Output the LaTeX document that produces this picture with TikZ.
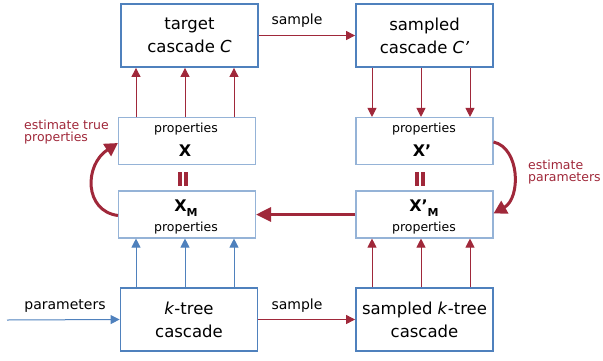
\documentclass[tikz,border=0pt]{standalone}
\usepackage{fontspec}
\setmainfont{DejaVu Sans}
\usetikzlibrary{arrows.meta}
\definecolor{cblue}{RGB}{79,129,189}
\definecolor{clblue}{RGB}{149,179,215}
\definecolor{cred}{RGB}{160,40,58}
\begin{document}
\begin{tikzpicture}[x=1pt,y=-1pt,
  bigbox/.style={draw=cblue,line width=1.8pt,minimum width=137pt,minimum height=63pt,inner sep=0pt,align=center,font=\fontsize{16.5}{23}\selectfont},
  propbox/.style={draw=clblue,line width=1.1pt,minimum width=137pt,minimum height=47pt,inner sep=0pt},
  proptxt/.style={inner sep=0pt,font=\fontsize{12.5}{14}\selectfont},
  bigx/.style={inner sep=0pt,font=\fontsize{16}{18}\bfseries},
  redarr/.style={draw=cred,line width=1pt,-{Triangle[length=9pt,width=9pt]}},
  bluearr/.style={draw=cblue,line width=1pt,-{Triangle[length=9pt,width=9pt]}},
  thickred/.style={draw=cred,line width=3pt,-{Triangle[length=13pt,width=14pt]}},
  lbl/.style={inner sep=0pt,font=\fontsize{14}{16}\selectfont},
  redlbl/.style={inner sep=0pt,text=cred,align=left,font=\fontsize{12.5}{12.5}\selectfont},
  eqbar/.style={fill=cred}
]
\useasboundingbox (0,0) rectangle (603,360);

% boxes
\node[bigbox] (C) at (189.5,35.5) {target\\cascade \textit{C}};
\node[bigbox] (Cp) at (424.5,35.5) {sampled\\cascade \textit{C’}};
\node[propbox] (X) at (187,141) {};
\node[propbox] (Xp) at (424.5,141) {};
\node[propbox] (XM) at (187,214.5) {};
\node[propbox] (XpM) at (424.5,214.5) {};
\node[bigbox] (K) at (189,319.5) {\textit{k}-tree\\cascade};
\node[bigbox] (Kp) at (424.5,319.5) {sampled \textit{k}-tree\\cascade};

% texts in property boxes
\node[proptxt] (Xa) at (186,129) {properties};
\node[bigx] (Xb) at (185,151) {X};
\node[proptxt] (Xpa) at (424,129) {properties};
\node[bigx] (Xpb) at (422,151) {X’};
\node[bigx] (XMa) at (186,208) {X\raisebox{-5pt}{\fontsize{11}{11}\selectfont M}};
\node[proptxt] (XMb) at (186,228) {properties};
\node[bigx] (XpMa) at (424,208) {X’\raisebox{-5pt}{\fontsize{11}{11}\selectfont M}};
\node[proptxt] (XpMb) at (424,228) {properties};

% arrows X -> C
\draw[redarr] ([xshift=-51pt]X.north) -- ([xshift=-53.5pt]C.south);
\draw[redarr] ([xshift=-2pt]X.north) -- ([xshift=-4.5pt]C.south);
\draw[redarr] ([xshift=47pt]X.north) -- ([xshift=44.5pt]C.south);
% arrows C' -> X'
\draw[redarr] ([xshift=-52.5pt]Cp.south) -- ([xshift=-52.5pt]Xp.north);
\draw[redarr] ([xshift=-3.5pt]Cp.south) -- ([xshift=-3.5pt]Xp.north);
\draw[redarr] ([xshift=45.5pt]Cp.south) -- ([xshift=45.5pt]Xp.north);
% arrows K -> XM
\draw[bluearr] ([xshift=-53pt]K.north) -- ([xshift=-51pt]XM.south);
\draw[bluearr] ([xshift=-4pt]K.north) -- ([xshift=-2pt]XM.south);
\draw[bluearr] ([xshift=45pt]K.north) -- ([xshift=47pt]XM.south);
% arrows K' -> X'M
\draw[redarr] ([xshift=-52.5pt]Kp.north) -- ([xshift=-52.5pt]XpM.south);
\draw[redarr] ([xshift=-3.5pt]Kp.north) -- ([xshift=-3.5pt]XpM.south);
\draw[redarr] ([xshift=45.5pt]Kp.north) -- ([xshift=45.5pt]XpM.south);

% sample arrows
\draw[redarr] (C.east) -- (Cp.west);
\node[lbl] (s1) at (297,21) {sample};
\draw[redarr] (K.east) -- (Kp.west);
\node[lbl] (s2) at (297,306) {sample};

% parameters
\coordinate (P) at (7,320);
\draw[bluearr] (P) -- (K.west);
\node[lbl] (par) at (65,306) {parameters};

% big horizontal arrow
\draw[draw=cred,line width=3pt,-{Triangle[length=15pt,width=14pt]}] (XpM.west) -- (XM.east);

% equality bars
\fill[eqbar] (177.5,172) rectangle (181.5,186);
\fill[eqbar] (183.5,172) rectangle (187.5,186);
\fill[eqbar] (415,172) rectangle (419,186);
\fill[eqbar] (421,172) rectangle (425,186);

% curved arrows
\draw[thickred] ([yshift=-1pt]XM.west) .. controls (84,211) and (84,165) .. ([yshift=-2pt]X.west);
\node[redlbl,anchor=west] (lt) at (24,132) {estimate true\\properties};
\draw[thickred] ([yshift=-1pt]Xp.east) .. controls (520,148) and (521,198) .. ([yshift=1pt]XpM.east);
\node[redlbl,anchor=west] (rt) at (528,172) {estimate\\parameters};
\end{tikzpicture}
\end{document}
